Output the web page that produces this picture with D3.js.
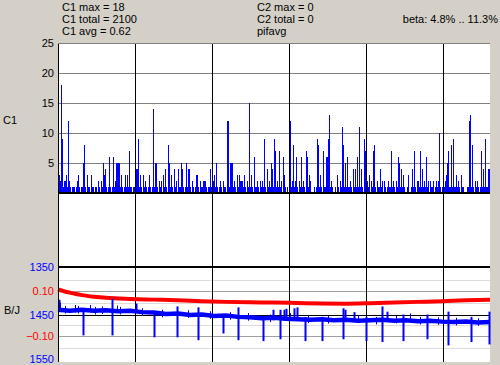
<!DOCTYPE html>
<html>
<head>
<meta charset="utf-8">
<script src="https://cdn.jsdelivr.net/npm/d3@7"></script>
<style>
  body { margin: 0; background: #d4d0c8; }
  svg text { font-family: "Liberation Sans", Arial, sans-serif; font-size: 11px; }
</style>
</head>
<body>
<div id="chart"></div>
<script>
// C1 counts, one value per pixel column, split by the six time sections
const c1Sec1 = [2,3,2,18,9,1,2,2,3,1, 12,2,1,0,1,1,1,0,1,2, 3,1,0,1,1,5,8,1,0,3,
  1,1,0,3,1,1,0,1,1,0, 2,1,0,2,1,5,3,4,1,0, 1,6,1,0,1,6,1,2,5,5, 5,5,1,3,1,0,1,3,1,3, 1,7,1,1,0,1,1];
const c1Sec2 = [1,4,4,9,1,3,1,0,3,1, 2,1,0,1,3,1,0,1,14,1, 5,5,1,0,2,1,2,0,3,1,
  4,1,0,8,5,1,3,1,0,4, 1,2,0,4,1,1,5,4,1,0, 1,5,1,4,4,1,0,2,1,0, 1,3,3,1,0,2,1,1,2,2, 2,1,0,1,1,4,1];
const c1Sec3 = [1,2,3,1,5,1,0,1,2,1, 0,2,1,1,0,12,12,1,5,5, 5,1,2,1,0,3,1,3,2,2,
  2,1,3,1,0,2,1,15,1,3, 1,0,6,1,1,2,1,0,2,1, 2,1,9,1,0,4,1,2,1,5, 4,1,9,7,1,2,1,7,1,2, 0,6,3,1,0,1,0];
const c1Sec4 = [1,12,1,2,8,1,2,6,1,0, 2,1,6,1,2,1,0,7,6,1, 3,2,0,0,0,1,0,1,9,8,
  1,3,1,0,7,1,1,6,6,9, 13,1,2,1,0,0,1,0,3,1, 0,2,1,11,8,1,5,1,6,1, 1,2,1,0,4,1,4,1,6,1, 11,1,4,1,0,9,7];
const c1Sec5 = [1,2,1,3,0,2,1,7,8,1, 0,2,1,1,4,1,2,0,2,1, 0,1,2,1,1,7,1,2,1,0,
  2,1,6,5,1,4,1,3,1,0, 0,1,3,0,0,1,4,1,7,1, 0,2,2,1,7,1,4,1,2,1, 6,1,2,0,2,1,1,2,0,1, 2,1,2,10,1,0,1];
const c1Sec6 = [1,1,2,3,5,7,1,1,8,1, 9,1,1,3,1,2,1,0,3,1, 1,0,0,0,1,1,12,13,1,8,
  1,0,2,1,2,1,0,1,7,1, 4,1,9,1,1,4,4];
const c1Values = [].concat(c1Sec1, c1Sec2, c1Sec3, c1Sec4, c1Sec5, c1Sec6);

const timeTicks = [0, 77, 154, 231, 308, 385];
const c1Ticks = [5, 10, 15, 20, 25];

// red series (-0.10 .. 0.10)
const redT = [0, 6, 12, 18, 24, 36, 48, 72, 96, 120, 144, 168, 192, 216, 240, 264, 288, 312, 336, 360, 384, 408, 432];
const redV = [0.108, 0.100, 0.094, 0.088, 0.083, 0.076, 0.071, 0.066, 0.063, 0.060, 0.056, 0.053,
  0.051, 0.050, 0.048, 0.046, 0.045, 0.047, 0.050, 0.053, 0.056, 0.060, 0.062];
const redTicks = [0.10, -0.10];
const redGrid = [0.15, 0.05, -0.05, -0.15];

// blue series (B/J, 1350 top .. 1550 bottom)
const blueT = [0, 12, 24, 36, 48, 60, 72, 84, 96, 108, 120, 132, 144, 156, 168, 180, 192, 204, 216, 228,
  240, 252, 264, 276, 288, 300, 312, 324, 336, 348, 360, 372, 384, 396, 408, 420, 432];
const blueV = [1440, 1442, 1440, 1442, 1441, 1443, 1442, 1445, 1446, 1449, 1448, 1451, 1450, 1453, 1452, 1455, 1456, 1458, 1457, 1459,
  1460, 1461, 1460, 1462, 1461, 1463, 1462, 1461, 1463, 1462, 1464, 1463, 1465, 1466, 1465, 1467, 1466];
const spikeT = [1, 25, 54, 78, 96, 119, 140, 165, 180, 205, 215, 222, 226, 228, 236, 239, 247, 264, 285, 287, 296, 308, 324, 329, 345, 369, 390, 413, 431];
const spikeLo = [1419, 1440, 1417, 1427, 1445, 1433, 1435, 1450, 1435, 1455, 1440, 1440, 1440, 1438, 1437, 1435, 1455, 1455, 1437, 1440, 1445, 1455, 1433, 1444, 1450, 1450, 1444, 1455, 1444];
const spikeHi = [1445, 1494, 1494, 1445, 1498, 1498, 1504, 1490, 1504, 1506, 1462, 1502, 1462, 1462, 1462, 1462, 1506, 1506, 1502, 1464, 1464, 1506, 1508, 1462, 1506, 1502, 1515, 1508, 1513];
// short upward whiskers in the blue band
const whiskT = [2, 7, 17, 20, 32, 37, 44, 59, 62, 84, 104, 130, 152, 172, 190, 212, 232, 250, 270, 300, 318, 338, 352, 362, 380, 398, 420];
const whiskLo = [1425, 1432, 1430, 1432, 1430, 1434, 1433, 1431, 1434, 1437, 1440, 1441, 1443, 1445, 1447, 1450, 1447, 1452, 1453, 1452, 1455, 1453, 1448, 1455, 1456, 1457, 1458];
const blueTicks = [1350, 1450, 1550];
const blueBlack = [1350, 1450];

const statsC1 = ["C1 max = 18", "C1 total = 2100", "C1 avg = 0.62"];
const statsC2 = ["C2 max = 0", "C2 total = 0", "pifavg"];
const betaLabel = "beta: 4.8% .. 11.3%";

const W = 500, H = 365;
const plotL = 58, plotR = 490, plotT = 44, c1Base = 193, plotB = 362;

const svg = d3.select("#chart").append("svg")
  .attr("width", W).attr("height", H)
  .style("display", "block");

const x = d3.scaleLinear().domain([0, c1Values.length]).range([plotL, plotR]);
const yC1 = d3.scaleLinear().domain([0, 25]).range([c1Base, 43]);
const yRed = d3.scaleLinear().domain([-0.10, 0.10]).range([336.3, 291.3]);
const yBlue = d3.scaleLinear().domain([1350, 1550]).range([267, 362]);

svg.append("rect").attr("x", plotL).attr("y", plotT)
  .attr("width", plotR - plotL).attr("height", plotB - plotT).attr("fill", "#fff");

// top panel gridlines
svg.append("g").selectAll("line").data(c1Ticks).enter().append("line")
  .attr("x1", plotL).attr("x2", plotR)
  .attr("y1", d => Math.round(yC1(d)) + 0.5).attr("y2", d => Math.round(yC1(d)) + 0.5)
  .attr("stroke", "#808080");

// bottom panel gridlines
svg.append("g").selectAll("line").data(redGrid).enter().append("line")
  .attr("x1", plotL).attr("x2", plotR)
  .attr("y1", d => Math.round(yRed(d)) + 0.5).attr("y2", d => Math.round(yRed(d)) + 0.5)
  .attr("stroke", "#dcdcdc");
svg.append("g").selectAll("line").data(redTicks).enter().append("line")
  .attr("x1", plotL).attr("x2", plotR)
  .attr("y1", d => Math.round(yRed(d)) + 0.5).attr("y2", d => Math.round(yRed(d)) + 0.5)
  .attr("stroke", "#a0a0a0");

// C1 bars
svg.append("g").attr("shape-rendering", "crispEdges")
  .selectAll("rect").data(c1Values).enter().append("rect")
  .attr("x", (d, i) => x(i))
  .attr("width", 1)
  .attr("y", d => yC1(d))
  .attr("height", d => yC1(0) - yC1(d))
  .attr("fill", "#0000ff");

// vertical time lines
svg.append("g").selectAll("line").data(timeTicks).enter().append("line")
  .attr("x1", d => Math.round(x(d)) + 0.5).attr("x2", d => Math.round(x(d)) + 0.5)
  .attr("y1", plotT).attr("y2", plotB)
  .attr("stroke", "#000");

// black horizontal lines
svg.append("line").attr("x1", plotL).attr("x2", plotR)
  .attr("y1", c1Base).attr("y2", c1Base).attr("stroke", "#000").attr("stroke-width", 2);
svg.append("g").selectAll("line").data(blueBlack).enter().append("line")
  .attr("x1", plotL).attr("x2", plotR)
  .attr("y1", d => Math.round(yBlue(d)) + (d === 1350 ? 0 : 0.5))
  .attr("y2", d => Math.round(yBlue(d)) + (d === 1350 ? 0 : 0.5))
  .attr("stroke", "#000").attr("stroke-width", d => d === 1350 ? 2 : 1);

// red line
const redData = redT.map((t, i) => [t, redV[i]]);
svg.append("path").datum(redData)
  .attr("d", d3.line().x(d => x(d[0])).y(d => yRed(d[1])).curve(d3.curveMonotoneX))
  .attr("fill", "none").attr("stroke", "#ff0000").attr("stroke-width", 4);

// blue line + spikes
const blueData = blueT.map((t, i) => [t, blueV[i]]);
svg.append("path").datum(blueData)
  .attr("d", d3.line().x(d => x(d[0])).y(d => yBlue(d[1])))
  .attr("fill", "none").attr("stroke", "#0000ff").attr("stroke-width", 4.5);
svg.append("g").selectAll("line").data(whiskT).enter().append("line")
  .attr("x1", d => x(d) + 0.5).attr("x2", d => x(d) + 0.5)
  .attr("y1", (d, i) => yBlue(whiskLo[i])).attr("y2", (d, i) => yBlue(whiskLo[i] + 16))
  .attr("stroke", "#0000ff").attr("stroke-width", 1);
svg.append("g").selectAll("line").data(spikeT).enter().append("line")
  .attr("x1", d => x(d) + 0.5).attr("x2", d => x(d) + 0.5)
  .attr("y1", (d, i) => yBlue(spikeLo[i])).attr("y2", (d, i) => yBlue(spikeHi[i]))
  .attr("stroke", "#0000ff").attr("stroke-width", 2);

// left axis line
svg.append("line").attr("x1", plotL + 0.5).attr("x2", plotL + 0.5)
  .attr("y1", plotT).attr("y2", plotB).attr("stroke", "#000");

// axes (labels only)
function labelAxis(scale, ticks, fmt, color) {
  const g = svg.append("g").attr("transform", `translate(${plotL},0)`)
    .call(d3.axisLeft(scale).tickValues(ticks).tickSize(0).tickPadding(4).tickFormat(fmt));
  g.select(".domain").remove();
  g.selectAll("text").attr("fill", color)
    .style("font-family", '"Liberation Sans", Arial, sans-serif').style("font-size", "11px");
  return g;
}
labelAxis(yC1, c1Ticks, d3.format("d"), "#000");
labelAxis(yBlue, blueTicks, d3.format("d"), "#0000ff")
  .selectAll(".tick text").attr("dy", d => d === 1550 ? "0.05em" : "0.32em");
labelAxis(yRed, redTicks, d3.format(".2f"), "#ff0000");

svg.append("text").attr("x", 3).attr("y", 120).attr("dy", "0.35em").text("C1");
svg.append("text").attr("x", 4).attr("y", 310).attr("dy", "0.35em").text("B/J");

// stats text
svg.append("g").selectAll("text").data(statsC1).enter().append("text")
  .attr("x", 62).attr("y", (d, i) => 11 + i * 12).text(d => d);
svg.append("g").selectAll("text").data(statsC2).enter().append("text")
  .attr("x", 257).attr("y", (d, i) => 11 + i * 12).text(d => d);
svg.append("text").attr("x", 498).attr("y", 23).attr("text-anchor", "end").text(betaLabel);
</script>
</body>
</html>
